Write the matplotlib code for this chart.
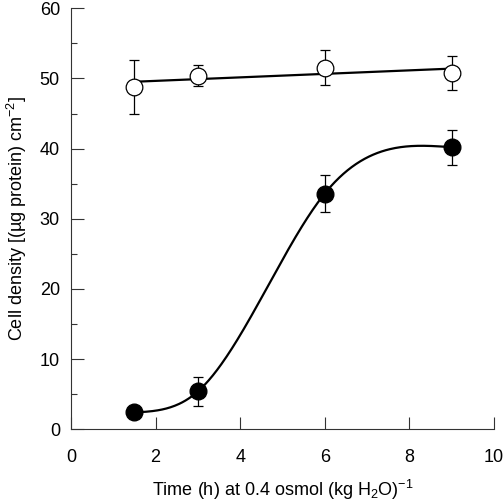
import numpy as np
import matplotlib
matplotlib.use("Agg")
import matplotlib.pyplot as plt
from matplotlib.ticker import MultipleLocator

plt.rcParams['font.family'] = ['Liberation Sans', 'DejaVu Sans']
plt.rcParams['mathtext.fontset'] = 'custom'
plt.rcParams['mathtext.rm'] = 'Liberation Sans'
plt.rcParams['mathtext.it'] = 'Liberation Sans:italic'
plt.rcParams['mathtext.sf'] = 'Liberation Sans'

# data
time_h = [1.5, 3, 6, 9]
open_density = [48.8, 50.4, 51.5, 50.8]
open_err = [3.8, 1.5, 2.5, 2.4]
filled_density = [2.4, 5.4, 33.6, 40.2]
filled_err = [0.8, 2.1, 2.7, 2.5]


def natural_spline(x, y, xs):
    # natural cubic spline through the points
    x = np.asarray(x, float)
    y = np.asarray(y, float)
    n = len(x)
    h = np.diff(x)
    A = np.zeros((n, n))
    r = np.zeros(n)
    A[0, 0] = A[-1, -1] = 1
    for i in range(1, n - 1):
        A[i, i - 1] = h[i - 1]
        A[i, i] = 2 * (h[i - 1] + h[i])
        A[i, i + 1] = h[i]
        r[i] = 6 * ((y[i + 1] - y[i]) / h[i] - (y[i] - y[i - 1]) / h[i - 1])
    M = np.linalg.solve(A, r)
    idx = np.clip(np.searchsorted(x, xs) - 1, 0, n - 2)
    a = x[idx + 1] - xs
    b = xs - x[idx]
    hh = h[idx]
    return (M[idx] * a**3 / (6 * hh) + M[idx + 1] * b**3 / (6 * hh)
            + (y[idx] - M[idx] * hh**2 / 6) * a / hh
            + (y[idx + 1] - M[idx + 1] * hh**2 / 6) * b / hh)


fig = plt.figure(figsize=(5.04, 5.03), dpi=100)
ax = fig.add_axes([0.1409, 0.1465, 0.839, 0.837])

# linear fit through open circles
slope, icpt = np.polyfit(time_h, open_density, 1)
xl = np.array([time_h[0], time_h[-1]])
ax.plot(xl, slope * xl + icpt, color='black', lw=1.6, zorder=2)

# smooth curve through filled circles
xs = np.linspace(time_h[0], time_h[-1], 300)
ax.plot(xs, natural_spline(time_h, filled_density, xs), color='black', lw=1.6, zorder=2)

ax.errorbar(time_h, open_density, yerr=open_err, fmt='o', ms=12, mfc='white',
            mec='black', mew=0.9, ecolor='black', elinewidth=0.9, capsize=3.8,
            capthick=0.9, zorder=3)
ax.errorbar(time_h, filled_density, yerr=filled_err, fmt='o', ms=12, mfc='black',
            mec='black', ecolor='black', elinewidth=0.9, capsize=3.8,
            capthick=0.9, zorder=3)

ax.set_xlim(0, 10)
ax.set_ylim(0, 60)
ax.xaxis.set_major_locator(MultipleLocator(2))
ax.yaxis.set_major_locator(MultipleLocator(10))
ax.yaxis.set_minor_locator(MultipleLocator(5))

ax.spines['top'].set_visible(False)
ax.spines['right'].set_visible(False)
for s in ('left', 'bottom'):
    ax.spines[s].set_linewidth(0.8)
    ax.spines[s].set_color('#333333')

ax.tick_params(axis='both', which='major', direction='in', length=9, width=0.8,
               labelsize=13, color='#333333')
ax.tick_params(axis='y', which='minor', direction='in', length=4.5, width=0.8,
               color='#333333')
ax.tick_params(axis='x', which='major', pad=14)
ax.tick_params(axis='y', which='major', pad=8)

ax.set_xlabel(r'Time (h) at 0.4 osmol (kg H$_\mathsf{2}$O)$^{\mathsf{-1}}$', fontsize=13,
              labelpad=9)
ax.set_ylabel(r'Cell density [(µg protein) cm$^{\mathsf{-2}}$]', fontsize=13,
              labelpad=8)

fig.savefig('out.png', dpi=100)
